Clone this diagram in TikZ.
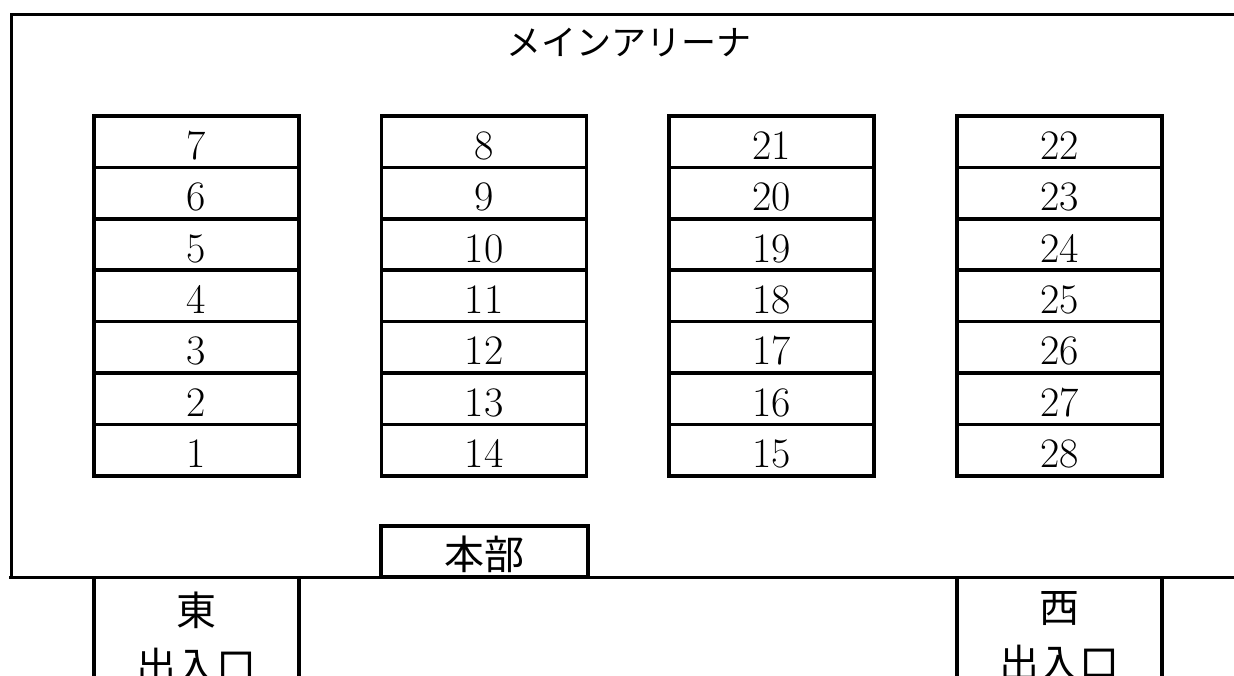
\documentclass[tikz,border=0pt]{standalone}
\usepackage{fontspec}
\newfontfamily\jp{Noto Sans CJK JP}
\usepackage{tikz}
\usetikzlibrary{positioning}

\begin{document}
\begin{tikzpicture}[x=1pt,y=-1pt,inner sep=0pt,line width=3pt,
  cell/.style={draw,line width=3.5pt,minimum width=205pt,minimum height=51.4pt,text height=35pt,text depth=0pt,font=\fontsize{42}{42}\selectfont},
  jptext/.style={font=\jp\fontsize{40}{56}\selectfont,align=center}]
\useasboundingbox (0,0) rectangle (1234,675);
% arena walls
\draw (1234,14) -- (11,14) -- (11,577);
\draw (9,577) -- (1234,577);
\node [font=\jp\fontsize{35}{35}\selectfont] (Title) at (629,43) {メインアリーナ};
% seat blocks
\foreach \r in {1,...,7}{
  \pgfmathsetmacro\y{116+51.4*(\r-0.5)}
  \pgfmathtruncatemacro\a{8-\r}
  \pgfmathtruncatemacro\b{7+\r}
  \pgfmathtruncatemacro\c{22-\r}
  \pgfmathtruncatemacro\d{21+\r}
  \draw node [cell] (B\a) at (196.5,\y) {\a};
  \draw node [cell] (B\b) at (484,\y) {\b};
  \draw node [cell] (B\c) at (771.5,\y) {\c};
  \draw node [cell] (B\d) at (1059.5,\y) {\d};
}
\draw node [draw,line width=3.5pt,minimum width=207pt,minimum height=51pt,text height=36pt,text depth=0pt,jptext] (HQ) at (484.5,551.5) {本部};
% entrances
\draw [line width=3.5pt] (94,577) -- (94,680);
\draw [line width=3.5pt] (299,577) -- (299,680);
\draw [line width=3.5pt] (957,577) -- (957,680);
\draw [line width=3.5pt] (1162,577) -- (1162,680);
\node [jptext,anchor=north] (East) at (196.5,590) {東\\出入口};
\node [jptext,anchor=north] (West) at (1059.5,590) {西\\出入口};
\end{tikzpicture}
\end{document}
